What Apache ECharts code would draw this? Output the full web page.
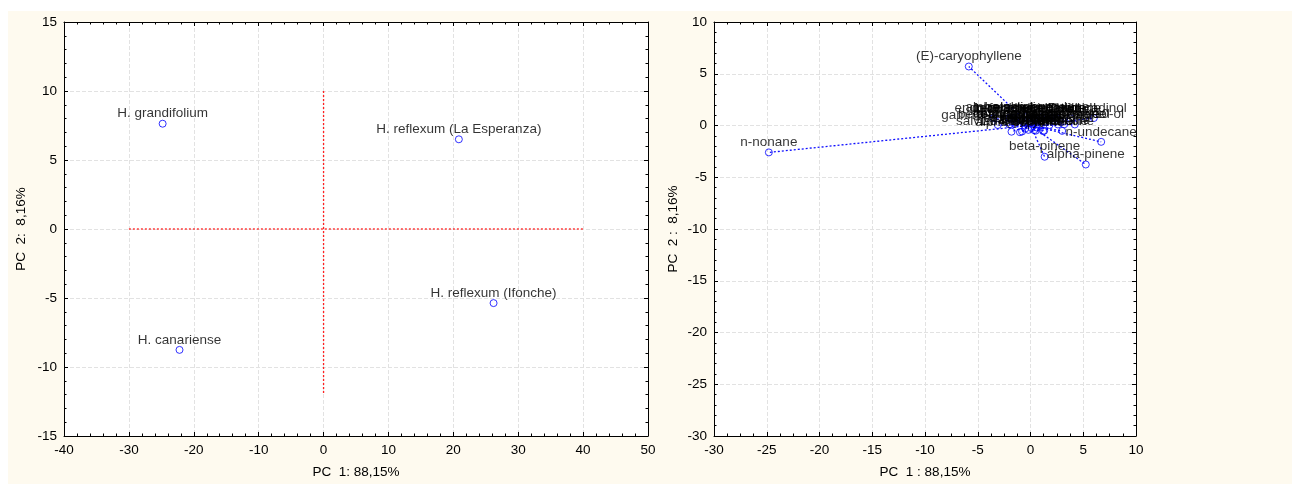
<!DOCTYPE html>
<html>
<head>
<meta charset="utf-8">
<script src="https://cdn.jsdelivr.net/npm/echarts@6/dist/echarts.min.js"></script>
<style>
  html, body { margin: 0; padding: 0; background: #ffffff; }
  #wrap { position: relative; width: 1292px; height: 484px; background: #ffffff; overflow: hidden; }
  #cream { position: absolute; left: 8px; top: 11px; right: 0; bottom: 0; background: #fefaef; }
  #chart { position: absolute; left: 0; top: 0; width: 1292px; height: 484px; }
</style>
</head>
<body>
<div id="wrap"><div id="cream"></div><div id="chart"></div></div>
<script>
// ---- Left plot: case scores ----
const caseNames = ['H. grandifolium', 'H. reflexum (La Esperanza)', 'H. reflexum (Ifonche)', 'H. canariense'];
const casePC1 = [-24.8, 20.85, 26.2, -22.2];
const casePC2 = [7.63, 6.5, -5.37, -8.76];
const crossHorizX = [-30, 40];   // red dotted line along PC2 = 0
const crossVertY = [10, -12];    // red dotted line along PC1 = 0

// ---- Right plot: variable loadings ----
const varNames = [
  '(E)-caryophyllene', 'n-nonane', 'n-undecane', 'alpha-pinene', 'beta-pinene',
  'endo-fenchol', 'germacrene D', 'bicyclogermacrene', 'alpha-humulene', 'delta-cadinene', 'tau-cadinol',
  'alpha-selinene', 'beta-selinene', 'humulene epoxide II', 'viridiflorol', 'ledol',
  'gamma-muurolene', 'caryophyllene oxide', 'cadin-4-en-10-ol', 'beta-elemene', 'camphene', 'n-decane',
  'terpinen-4-ol', 'alpha-terpineol', 'gamma-cadinene', 'trans-pinocarveol', 'beta-bourbonene',
  'salvial-4(14)-en-1-one', 'alpha-copaene', 'limonene', 'myrcene', '2-methyloctane', 'alpha-thujene',
  'p-cymene', 'verbenone', '1,8-cineole', 'linalool'
];
const varPC1 = [
  -5.85, -24.8, 6.7, 5.24, 1.34,
  -3.5, -1.5, 0.2, 1.0, 2.5, 6.0,
  -2.0, -0.5, 0.5, 2.0, 3.8,
  -3.1, 0.9, 4.2, 3.2, 0.1, 0.6,
  -1.5, 1.8, -0.5, 2.6, -2.0,
  -0.8, -1.0, -0.2, 0.35, 1.3, -0.5,
  1.2, 3.0, -1.8, 0.5
];
const varPC2 = [
  5.7, -2.6, -1.58, -3.77, -3.02,
  0.72, 0.7, 0.62, 0.78, 0.7, 0.72,
  0.75, 0.8, 0.68, 0.74, 0.7,
  0.05, 0.08, 0.1, 0.12, -0.25, -0.2,
  0.15, 0.05, 0.2, 0.1, 0.1,
  -0.58, -0.65, -0.42, -0.45, -0.5, -0.3,
  -0.55, -0.52, -0.6, -0.5
];

// ---- Axis ticks ----
const leftX = { min: -40, max: 50, interval: 10, minor: 5 };
const leftY = { min: -15, max: 15, interval: 5, minor: 5 };
const rightX = { min: -30, max: 10, interval: 5, minor: 4 };
const rightY = { min: -30, max: 10, interval: 5, minor: 5 };

const FONT = 'Arial, "Liberation Sans", sans-serif';
const FS = 13.5;

function mainAxis(gridIndex, spec, position, name, nameGap) {
  return {
    type: 'value', gridIndex: gridIndex, position: position,
    min: spec.min, max: spec.max, interval: spec.interval,
    axisLine: { show: true, onZero: false, lineStyle: { color: '#000', width: 1 } },
    axisTick: { show: true, inside: true, length: 4, lineStyle: { color: '#000' } },
    minorTick: { show: true, splitNumber: spec.minor, length: 2.5, lineStyle: { color: '#000' } },
    axisLabel: { color: '#000', fontSize: FS, fontFamily: FONT, margin: 7 },
    splitLine: { show: true, lineStyle: { type: 'dashed', color: '#e2e2e2', width: 1 } },
    name: name, nameLocation: 'middle', nameGap: nameGap,
    nameTextStyle: { color: '#000', fontSize: FS, fontFamily: FONT }
  };
}
function frameAxis(gridIndex, spec, position) {
  return {
    type: 'value', gridIndex: gridIndex, position: position,
    min: spec.min, max: spec.max, interval: spec.interval,
    axisLine: { show: true, onZero: false, lineStyle: { color: '#000', width: 1 } },
    axisTick: { show: true, inside: true, length: 4, lineStyle: { color: '#000' } },
    minorTick: { show: true, splitNumber: spec.minor, length: 2.5, lineStyle: { color: '#000' } },
    axisLabel: { show: false },
    splitLine: { show: false }
  };
}

const markerStyle = { color: 'rgba(0,0,0,0)', borderColor: '#0000ff', borderWidth: 1 };
const labelStyle = { show: true, position: 'top', distance: -1, formatter: '{b}', color: '#000', fontSize: FS, fontFamily: FONT };

const chart = echarts.init(document.getElementById('chart'), null, { renderer: 'canvas' });
chart.setOption({
  backgroundColor: 'transparent',
  animation: false,
  grid: [
    { left: 64, top: 22, right: 1292 - 648, bottom: 43, show: true, backgroundColor: '#ffffff', borderWidth: 0 },
    { left: 714, top: 22, right: 1292 - 1136, bottom: 43, show: true, backgroundColor: '#ffffff', borderWidth: 0 }
  ],
  xAxis: [
    mainAxis(0, leftX, 'bottom', 'PC  1: 88,15%', 29),
    frameAxis(0, leftX, 'top'),
    mainAxis(1, rightX, 'bottom', 'PC  1 : 88,15%', 29),
    frameAxis(1, rightX, 'top')
  ],
  yAxis: [
    mainAxis(0, leftY, 'left', 'PC  2:  8,16%', 36),
    frameAxis(0, leftY, 'right'),
    mainAxis(1, rightY, 'left', 'PC  2 :  8,16%', 34),
    frameAxis(1, rightY, 'right')
  ],
  series: [
    {
      type: 'line', xAxisIndex: 0, yAxisIndex: 0, silent: true, showSymbol: false, z: 3,
      data: [[crossHorizX[0], 0], [crossHorizX[1], 0]],
      lineStyle: { color: '#ff2020', width: 1.3, type: [2, 2] }
    },
    {
      type: 'line', xAxisIndex: 0, yAxisIndex: 0, silent: true, showSymbol: false, z: 3,
      data: [[0, crossVertY[0]], [0, crossVertY[1]]],
      lineStyle: { color: '#ff2020', width: 1.3, type: [2, 2] }
    },
    {
      type: 'scatter', xAxisIndex: 0, yAxisIndex: 0, z: 5,
      symbol: 'circle', symbolSize: 7,
      itemStyle: markerStyle, label: labelStyle,
      data: caseNames.map((n, i) => ({ name: n, value: [casePC1[i], casePC2[i]] }))
    },
    {
      type: 'lines', coordinateSystem: 'cartesian2d', xAxisIndex: 2, yAxisIndex: 2, silent: true, z: 3,
      lineStyle: { color: '#1010ff', width: 1.3, type: [2, 2], opacity: 1 },
      data: varNames.map((n, i) => ({ coords: [[0, 0], [varPC1[i], varPC2[i]]] }))
    },
    {
      type: 'scatter', xAxisIndex: 2, yAxisIndex: 2, z: 5,
      symbol: 'circle', symbolSize: 7,
      itemStyle: markerStyle, label: labelStyle,
      data: varNames.map((n, i) => ({ name: n, value: [varPC1[i], varPC2[i]] }))
    }
  ]
});
</script>
</body>
</html>
